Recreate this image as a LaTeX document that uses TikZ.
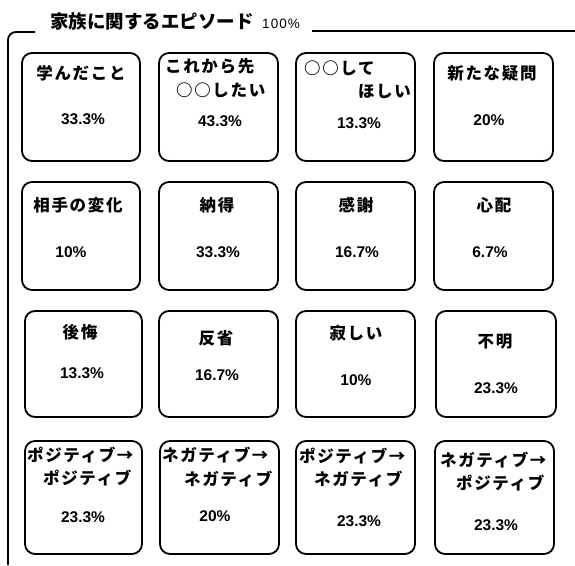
\documentclass[tikz,border=0pt]{standalone}
\usepackage{fontspec}
\usetikzlibrary{fit}
\newfontfamily\jpfont{Noto Sans CJK JP}[LetterSpace=10]
\newfontfamily\titlefont{Noto Sans CJK JP}
\newfontfamily\numfont{Liberation Sans}
\newfontfamily\totalfont{Liberation Sans}[LetterSpace=8]
\begin{document}
\begin{tikzpicture}[x=1pt,y=-1pt,
  box/.style={draw, line width=1.8pt, rounded corners=10pt, inner sep=0pt},
  lab/.style={inner sep=0pt, font=\jpfont\bfseries\fontsize{16.5}{16.5}\selectfont},
  pct/.style={inner sep=0pt, font=\numfont\bfseries\fontsize{15.5}{15.5}\selectfont},
  frameline/.style={line width=1.8pt}]
\useasboundingbox (0,0) rectangle (575,565);
\fill[white] (0,0) rectangle (575,565);

% frame
\coordinate (fa) at (8,565);
\coordinate (fb) at (35,32);
\coordinate (fc) at (312,31);
\coordinate (fd) at (575,31);
\draw[frameline, rounded corners=8pt] (fa) |- (fb);
\draw[frameline] (fc) -- (fd);
\node[inner sep=0pt, anchor=west, font=\titlefont\bfseries\fontsize{18.5}{18.5}\selectfont] (title) at (50,21) {家族に関するエピソード};
\node[inner sep=0pt, anchor=west, font=\totalfont\fontsize{13.5}{13.5}\selectfont] (total) at (262,24) {100\%};

% row 1
\node[box, fit={(22,53) (140,161)}] (b11) {};
\node[box, fit={(159,53) (278,161)}] (b12) {};
\node[box, fit={(296,53) (415,161)}] (b13) {};
\node[box, fit={(434,53) (553,161)}] (b14) {};
\node[lab] (t11) at (81,73) {学んだこと};
\node[pct] (p11) at (83,119) {33.3\%};
\node[lab, anchor=west] (t12a) at (165,66) {これから先};
\node[lab, anchor=west] (t12b) at (176,90) {○○したい};
\node[pct] (p12) at (220,121) {43.3\%};
\node[lab, anchor=west] (t13a) at (304,68) {○○して};
\node[lab, anchor=east] (t13b) at (411,91) {ほしい};
\node[pct] (p13) at (359,123) {13.3\%};
\node[lab] (t14) at (492,73) {新たな疑問};
\node[pct] (p14) at (489,120) {20\%};

% row 2
\node[box, fit={(22,182) (140,290)}] (b21) {};
\node[box, fit={(159,182) (278,290)}] (b22) {};
\node[box, fit={(296,182) (415,290)}] (b23) {};
\node[box, fit={(434,182) (553,290)}] (b24) {};
\node[lab] (t21) at (78,205) {相手の変化};
\node[pct] (p21) at (71,252) {10\%};
\node[lab] (t22) at (217,205) {納得};
\node[pct] (p22) at (218,252) {33.3\%};
\node[lab] (t23) at (356,205) {感謝};
\node[pct] (p23) at (357,252) {16.7\%};
\node[lab] (t24) at (494,205) {心配};
\node[pct] (p24) at (490,252) {6.7\%};

% row 3
\node[box, fit={(25,311) (142,417)}] (b31) {};
\node[box, fit={(159,311) (278,417)}] (b32) {};
\node[box, fit={(296,311) (415,417)}] (b33) {};
\node[box, fit={(436,311) (556,417)}] (b34) {};
\node[lab] (t31) at (80,332) {後悔};
\node[pct] (p31) at (82,373) {13.3\%};
\node[lab] (t32) at (216,338) {反省};
\node[pct] (p32) at (217,375) {16.7\%};
\node[lab] (t33) at (356,333) {寂しい};
\node[pct] (p33) at (356,380) {10\%};
\node[lab] (t34) at (495,342) {不明};
\node[pct] (p34) at (496,388) {23.3\%};

% row 4
\node[box, fit={(25,441) (142,554)}] (b41) {};
\node[box, fit={(160,441) (279,554)}] (b42) {};
\node[box, fit={(296,441) (415,554)}] (b43) {};
\node[box, fit={(435,441) (554,554)}] (b44) {};
\node[lab, anchor=west] (t41a) at (27,455) {ポジティブ→};
\node[lab, anchor=west] (t41b) at (43,478) {ポジティブ};
\node[pct] (p41) at (83,517) {23.3\%};
\node[lab, anchor=west] (t42a) at (162,455) {ネガティブ→};
\node[lab, anchor=west] (t42b) at (184,479) {ネガティブ};
\node[pct] (p42) at (215,516) {20\%};
\node[lab, anchor=west] (t43a) at (299,456) {ポジティブ→};
\node[lab, anchor=west] (t43b) at (314,479) {ネガティブ};
\node[pct] (p43) at (359,521) {23.3\%};
\node[lab, anchor=west] (t44a) at (440,460) {ネガティブ→};
\node[lab, anchor=west] (t44b) at (456,483) {ポジティブ};
\node[pct] (p44) at (496,525) {23.3\%};
\end{tikzpicture}
\end{document}
